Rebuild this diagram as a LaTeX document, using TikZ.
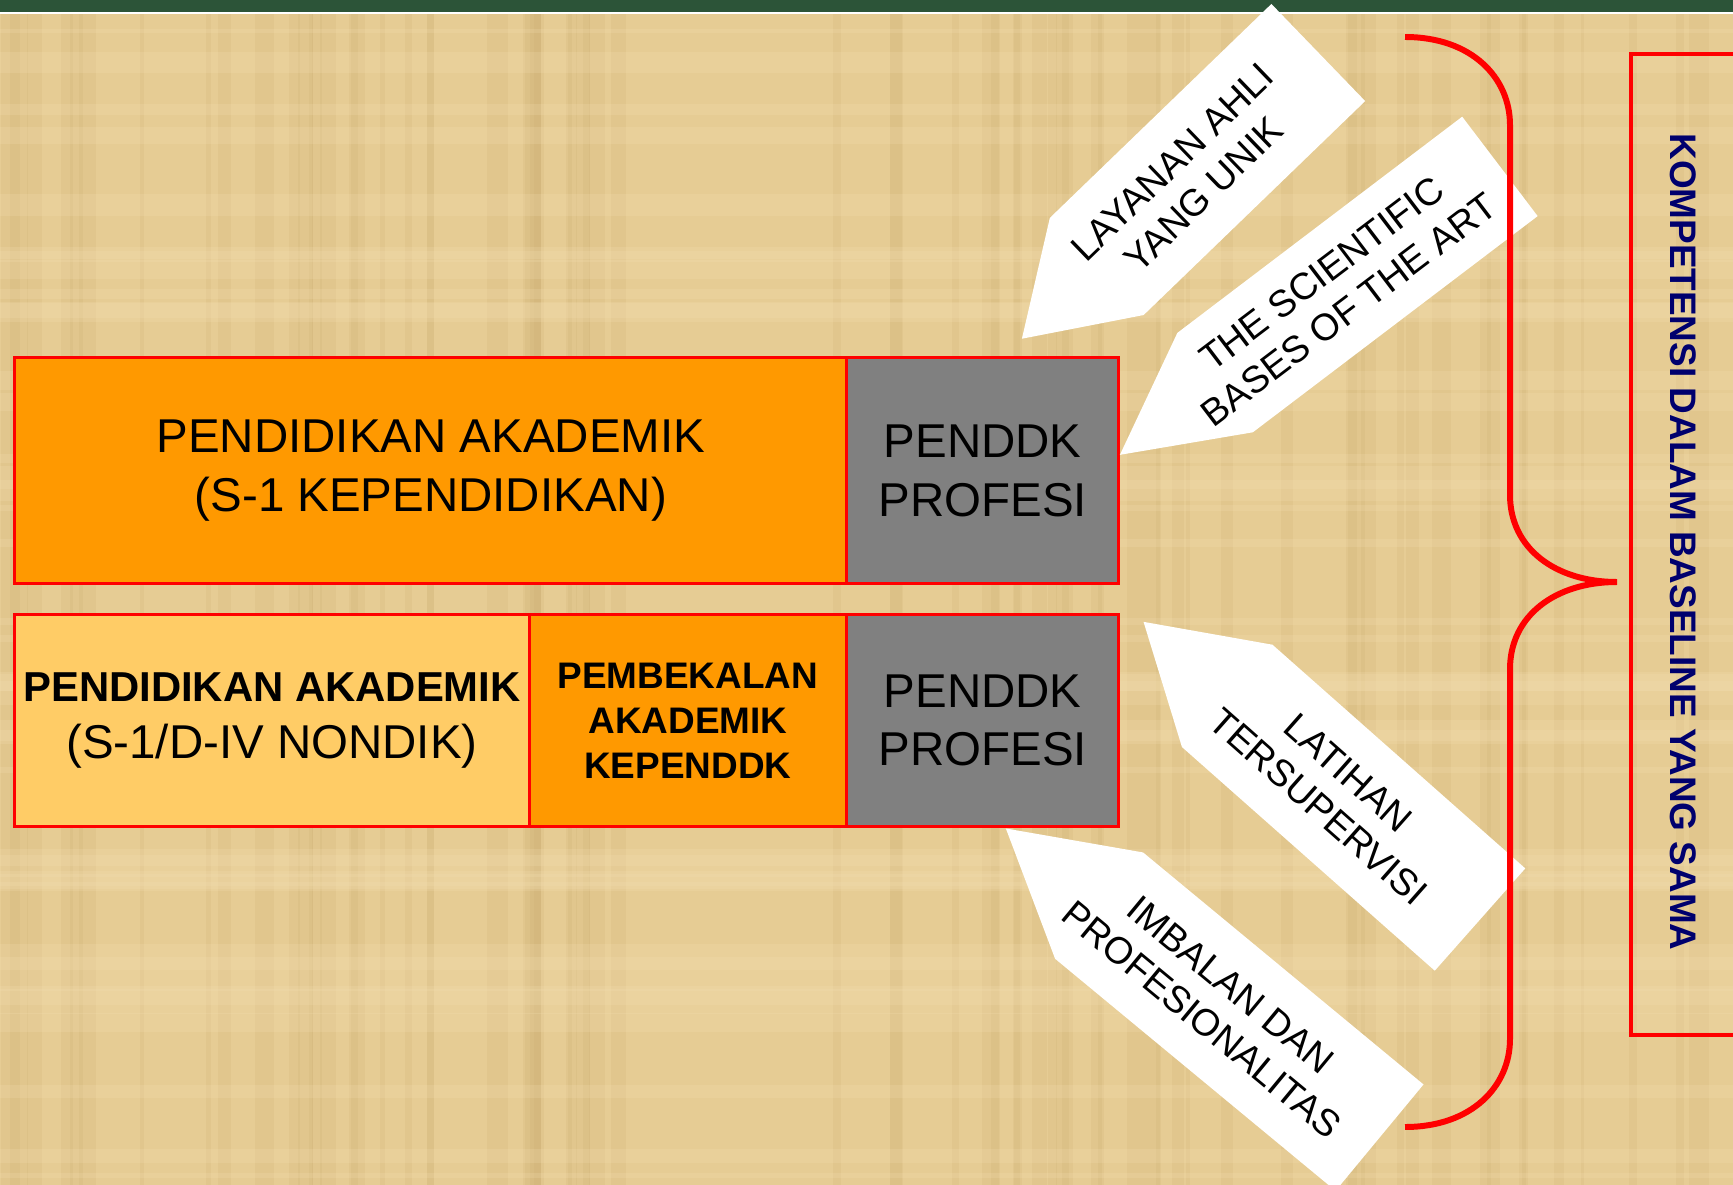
\documentclass[tikz,border=0pt]{standalone}
\usepackage{fontspec}
\setmainfont{Liberation Sans}
\usetikzlibrary{positioning}
\definecolor{papyrus}{RGB}{230,204,148}
\definecolor{papyrusgelap}{RGB}{196,164,102}
\definecolor{papyrusterang}{RGB}{244,224,178}
\definecolor{felt}{RGB}{44,84,56}
\definecolor{jingga}{RGB}{255,153,0}
\definecolor{jinggamuda}{RGB}{255,204,102}
\definecolor{abu}{RGB}{128,128,128}
\definecolor{tinta}{RGB}{0,0,110}
\tikzset{
  kotak/.style={draw=red, line width=0.9pt, inner sep=0pt, anchor=north west, align=center},
  panah/.style={fill=white},
  teks panah/.style={align=center, inner sep=0pt, font=\fontsize{10.7}{12.8}\selectfont},
  kurung/.style={draw=red, line width=1.7pt},
}

\begin{document}
\begin{tikzpicture}[x=0.01cm, y=-0.01cm]
      \useasboundingbox (0,0) rectangle (1733,1185);
      \clip (0,0) rectangle (1733,1185);
      \fill[papyrus] (0,0) rectangle (1733,1185);
      \pgfmathsetseed{11}
      \foreach \i in {1,...,70} {
        \pgfmathsetmacro\xx{rnd*1733}
        \pgfmathsetmacro\ww{3+rnd*18}
        \fill[papyrusgelap, opacity=0.14] (\xx,14.5) rectangle ++(\ww,1185);
      }
      \foreach \i in {1,...,40} {
        \pgfmathsetmacro\yy{14.5+rnd*1170}
        \pgfmathsetmacro\hh{4+rnd*22}
        \fill[papyrusterang, opacity=0.22] (0,\yy) rectangle ++(1733,\hh);
      }
      \fill[felt] (0,0) rectangle (1733,12.5);
      \fill[white] (0,12.5) rectangle (1733,14.5);
      \node[kotak, fill=jingga, minimum width=8.32cm, minimum height=2.26cm,
            font=\fontsize{13.5}{16.8}\selectfont] (akademik) at (13,356)
            {PENDIDIKAN AKADEMIK\\(S-1 KEPENDIDIKAN)};
      \node[kotak, fill=abu, minimum width=2.72cm, minimum height=2.26cm,
            font=\fontsize{13.5}{16.8}\selectfont] (profesi) at (845,356)
            {PENDDK\\PROFESI};
      \node[kotak, fill=jinggamuda, minimum width=5.145cm, minimum height=2.12cm,
            font=\fontsize{13.5}{16.2}\selectfont] (nondik) at (13,613)
            {{\fontsize{11.9}{16.2}\selectfont\bfseries PENDIDIKAN AKADEMIK}\\(S-1/D-IV NONDIK)};
      \node[kotak, fill=jingga, minimum width=3.175cm, minimum height=2.12cm,
            font=\bfseries\fontsize{10.5}{12.7}\selectfont] (pembekalan) at (527.5,613)
            {PEMBEKALAN\\AKADEMIK\\KEPENDDK};
      \node[kotak, fill=abu, minimum width=2.72cm, minimum height=2.12cm,
            font=\fontsize{13.5}{16.5}\selectfont] (profesi2) at (845,613)
            {PENDDK\\PROFESI};
      \begin{scope}[shift={(1207.5,159.5)}, rotate=44]
        \fill[panah] (-258,0) -- (-154,-67.5) -- (154,-67.5) -- (154,67.5) -- (-154,67.5) -- cycle;
        \node[teks panah, rotate=44] (layanan) at (-27,0) {LAYANAN AHLI\\YANG UNIK};
      \end{scope}
      \begin{scope}[shift={(1357.5,274.5)}, rotate=37.2]
        \fill[panah] (-298.3,0) -- (-178.8,-62.4) -- (178.8,-62.4) -- (178.8,62.4) -- (-178.8,62.4) -- cycle;
        \node[teks panah, rotate=37.2] (scientific) at (-28,0) {THE SCIENTIFIC\\BASES OF THE ART};
      \end{scope}
      \begin{scope}[shift={(1353.6,807.7)}, rotate=-41.5]
        \fill[panah] (-280.5,0) -- (-168.8,-68.3) -- (168.8,-68.3) -- (168.8,68.3) -- (-168.8,68.3) -- cycle;
        \node[teks panah, rotate=-41.5] (latihan) at (-27,0) {LATIHAN\\TERSUPERVISI};
      \end{scope}
      \begin{scope}[shift={(1239.3,1021.6)}, rotate=-39.6]
        \fill[panah] (-303,0) -- (-182,-69) -- (182,-69) -- (182,69) -- (-182,69) -- cycle;
        \node[teks panah, rotate=-39.6] (imbalan) at (-30,0) {IMBALAN DAN\\PROFESIONALITAS};
      \end{scope}
      \draw[kurung] (1405,37) .. controls (1472,37) and (1510,78) .. (1510,125) -- (1510,495)
            .. controls (1510,548) and (1555,582) .. (1617,582)
            .. controls (1555,582) and (1510,616) .. (1510,669) -- (1510,1039)
            .. controls (1510,1086) and (1472,1127) .. (1405,1127);
      \draw[red, line width=0.9pt] (1760,54) -- (1631,54) -- (1631,1035) -- (1760,1035);
      \node[font=\bfseries\fontsize{10.5}{12}\selectfont, text=tinta, rotate=-90] (kompetensi)
            at (1683.5,542) {KOMPETENSI DALAM BASELINE YANG SAMA};
\end{tikzpicture}
\end{document}
